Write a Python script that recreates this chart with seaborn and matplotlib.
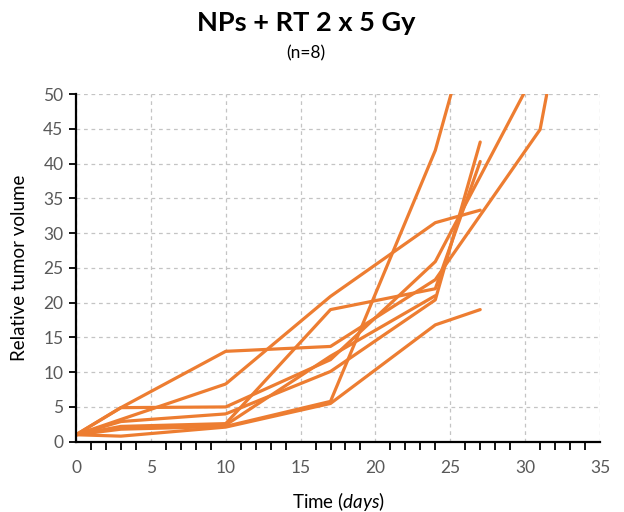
import seaborn as sns
import pandas as pd
import numpy as np
import matplotlib.pyplot as plt
from matplotlib.ticker import MultipleLocator

# measurement days and relative tumour volume per mouse (None = no point)
days = [0, 3, 10, 17, 24, 27, 31, 34]
mouse1 = [1.0, 4.9, 13.0, 13.7, 23.3, None, 44.9, 79.0]
mouse2 = [1.0, 3.2, 8.3, 20.9, 31.5, 33.3, None, None]
mouse3 = [1.0, 4.9, 5.0, 11.8, 25.9, None, 54.5, None]
mouse4 = [1.0, 2.9, 4.0, 10.1, 20.4, 43.1, None, None]
mouse5 = [1.0, 2.2, 2.6, 19.0, 22.0, 40.3, None, None]
mouse6 = [1.0, 2.0, 2.4, 12.3, 21.0, None, None, None]
mouse7 = [1.0, 1.8, 2.2, 5.8, 41.9, 65.0, None, None]
mouse8 = [1.0, 0.8, 2.1, 5.5, 16.8, 19.0, None, None]

title = "NPs + RT 2 x 5 Gy"
subtitle = "(n=8)"

sns.set_theme(style="white")
plt.rcParams["font.family"] = ["Lato", "DejaVu Sans"]
plt.rcParams["mathtext.fontset"] = "custom"
plt.rcParams["mathtext.it"] = "Lato:italic"
plt.rcParams["mathtext.rm"] = "Lato"

df = pd.DataFrame({"day": days, "m1": mouse1, "m2": mouse2, "m3": mouse3, "m4": mouse4,
                   "m5": mouse5, "m6": mouse6, "m7": mouse7, "m8": mouse8})
df = df.melt(id_vars="day", var_name="mouse", value_name="volume").dropna()

fig = plt.figure(figsize=(6.24, 5.12), dpi=100)
ax = fig.add_axes([0.1218, 0.1373, 0.8397, 0.679])

sns.lineplot(data=df, x="day", y="volume", units="mouse", estimator=None,
             color="#ED7D31", linewidth=2.3, sort=False, ax=ax)

ax.set_xlim(0, 35)
ax.set_ylim(0, 50)
ax.xaxis.set_major_locator(MultipleLocator(5))
ax.xaxis.set_minor_locator(MultipleLocator(1))
ax.yaxis.set_major_locator(MultipleLocator(5))

ax.grid(True, which="major", color="#c4c4c4", linestyle=(0, (3, 3)), linewidth=0.9)
ax.set_axisbelow(True)

for s in ["top", "right"]:
    ax.spines[s].set_visible(False)
for s in ["left", "bottom"]:
    ax.spines[s].set_color("black")
    ax.spines[s].set_linewidth(1.6)

ax.tick_params(axis="both", which="both", direction="out", colors="black",
               labelcolor="#595959", labelsize=12.5)
ax.tick_params(axis="x", which="major", length=6, width=1.3, pad=7)
ax.tick_params(axis="x", which="minor", length=6, width=1.3, bottom=True)
ax.tick_params(axis="y", which="major", length=5, width=1.3, left=True, pad=4)

ax.set_xlabel(r"Time $\it{(days)}$", fontsize=13.5, color="black", labelpad=10)
ax.set_ylabel("Relative tumor volume", fontsize=13.5, color="black", labelpad=11)

fig.text(0.49, 0.956, title, ha="center", va="center", fontsize=19.5,
         fontweight="bold", color="black")
fig.text(0.49, 0.896, subtitle, ha="center", va="center", fontsize=12.5, color="black")

fig.savefig("out.png", dpi=100)
